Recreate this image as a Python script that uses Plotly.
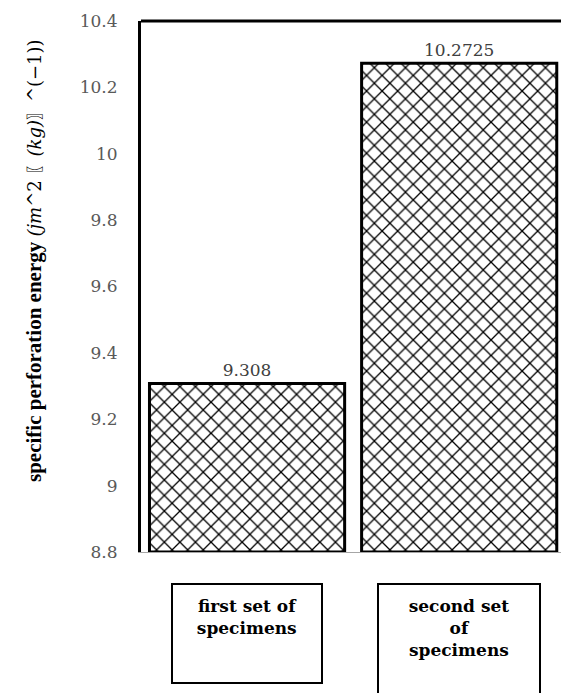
import plotly.graph_objects as go

# Specific perforation energy for the two specimen sets
categories = ["first set of specimens", "second set of specimens"]
category_labels = ["first set of<br>specimens", "second set<br>of<br>specimens"]
energy = [9.308, 10.2725]
value_labels = ["9.308", "10.2725"]

y_min, y_max = 8.8, 10.4
tick_vals = [8.8, 9.0, 9.2, 9.4, 9.6, 9.8, 10.0, 10.2, 10.4]
tick_text = ["8.8", "9", "9.2", "9.4", "9.6", "9.8", "10", "10.2", "10.4"]

W, H = 561, 693
ML, MT, MB = 141, 21, 141
plot_w = W - ML
plot_h = H - MT - MB

fig = go.Figure()
fig.add_trace(go.Bar(
    x=categories,
    y=[v - y_min for v in energy],
    base=y_min,
    text=value_labels,
    textposition="outside",
    textfont=dict(family="DejaVu Serif", size=17, color="#404040"),
    cliponaxis=False,
    marker=dict(
        color="white",
        line=dict(color="black", width=3),
        pattern=dict(shape="x", size=11, solidity=0.22,
                     fgcolor="black", bgcolor="white", fillmode="replace"),
    ),
    width=0.92,
    showlegend=False,
))

tick_font = dict(family="DejaVu Serif", size=17, color="#595959")

fig.update_layout(
    width=W, height=H,
    margin=dict(l=ML, r=0, t=MT, b=MB, autoexpand=False),
    paper_bgcolor="white", plot_bgcolor="white",
    xaxis=dict(
        range=[-0.5, 1.48], showticklabels=False, ticks="",
        showline=True, linecolor="#a6a6a6", linewidth=1,
        showgrid=False, zeroline=False,
    ),
    yaxis=dict(
        range=[y_min, y_max], tickvals=tick_vals, ticktext=tick_text,
        tickfont=tick_font, ticks="", ticklabelstandoff=17,
        showline=True, linecolor="black", linewidth=3,
        showgrid=False, zeroline=False,
    ),
)

# top border of the frame
fig.add_shape(type="line", xref="paper", yref="paper",
              x0=0, x1=1, y0=1, y1=1,
              line=dict(color="black", width=3))

# boxed category labels under the bars
box_sizes = [(126, 75), (138, 99)]
for cat, lab, (bw, bh) in zip(categories, category_labels, box_sizes):
    fig.add_annotation(
        x=cat, xref="x", y=0, yref="paper",
        yanchor="top", xanchor="center", yshift=-31,
        text="<b>" + lab + "</b>", showarrow=False,
        font=dict(family="DejaVu Serif", size=17, color="black"),
        width=bw, height=bh, valign="top", align="center",
        bordercolor="black", borderwidth=2, borderpad=11,
        bgcolor="white",
    )

# y-axis title with the unit expression
fig.add_annotation(
    x=(20 - ML) / plot_w, xref="paper",
    y=(H - MB - 261) / plot_h, yref="paper",
    textangle=-90, showarrow=False,
    text=("<b>specific perforation energy</b> "
          "<span style='font-family:DejaVu Serif;font-size:18px'>"
          "<i>(jm</i>^2 〖<i>(kg)</i>〗^(−1))</span>"),
    font=dict(family="Liberation Serif", size=21, color="black"),
)

fig.write_html("out.html")
